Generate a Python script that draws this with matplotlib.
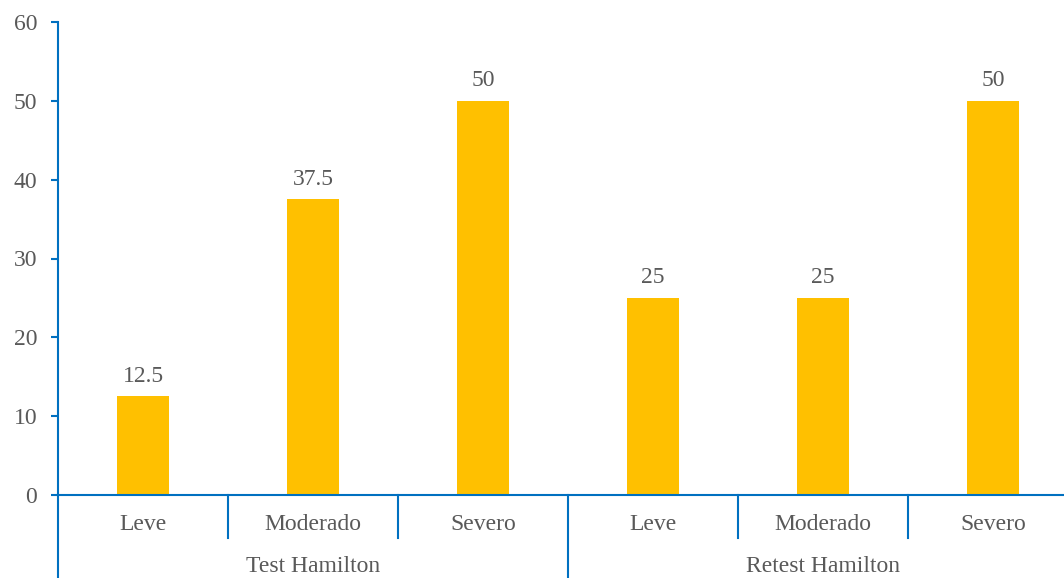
import matplotlib
matplotlib.use("Agg")
import matplotlib.pyplot as plt
import numpy as np

groups = ["Test Hamilton", "Retest Hamilton"]
levels = ["Leve", "Moderado", "Severo"]
values = [12.5, 37.5, 50, 25, 25, 50]
value_labels = ["12.5", "37.5", "50", "25", "25", "50"]

BAR_COLOR = "#FFC000"
AXIS_COLOR = "#0070C0"
TEXT_COLOR = "#595959"
FS = 17

plt.rcParams["font.family"] = ["Liberation Serif", "DejaVu Serif"]

fig = plt.figure(figsize=(10.64, 5.78), dpi=100)
# axis runs a little past the right edge of the canvas
ax = fig.add_axes([58 / 1064, 83 / 578, 1020 / 1064, 473 / 578])

x = np.arange(len(values))
ax.bar(x, values, width=0.31, color=BAR_COLOR, zorder=2)
for xi, v, lab in zip(x, values, value_labels):
    ax.annotate(lab, (xi, v), xytext=(0, 7), textcoords="offset points",
                ha="center", va="bottom", fontsize=FS, color=TEXT_COLOR)

ax.set_xlim(-0.5, len(values) - 0.5)
ax.set_ylim(0, 60)
ax.set_yticks(range(0, 61, 10))
ax.tick_params(axis="y", colors=AXIS_COLOR, length=5, width=1.5,
               labelcolor=TEXT_COLOR, labelsize=FS, pad=10)
ax.set_xticks([])

for side in ("top", "right"):
    ax.spines[side].set_visible(False)
for side in ("left", "bottom"):
    ax.spines[side].set_color(AXIS_COLOR)
    ax.spines[side].set_linewidth(1.5)

# two-level category axis: level names, then group names
trans = ax.get_xaxis_transform()
for xi, lab in zip(x, levels * len(groups)):
    ax.text(xi, -0.062, lab, transform=trans, ha="center", va="center",
            fontsize=FS, color=TEXT_COLOR)
n = len(levels)
for gi, g in enumerate(groups):
    ax.text(gi * n + (n - 1) / 2, -0.152, g, transform=trans, ha="center",
            va="center", fontsize=FS, color=TEXT_COLOR)

# separators below the axis
ax.plot([-0.5, -0.5], [0, -0.18], transform=trans, color=AXIS_COLOR,
        lw=1.5, clip_on=False)
for b in np.arange(0.5, len(values) - 0.5, 1.0):
    depth = -0.18 if round(b + 0.5) % n == 0 else -0.091
    ax.plot([b, b], [0, depth], transform=trans, color=AXIS_COLOR,
            lw=1.5, clip_on=False)
ax.plot([len(values) - 0.5] * 2, [0, -0.18], transform=trans,
        color=AXIS_COLOR, lw=1.5, clip_on=False)

fig.savefig("out.png", dpi=100)
